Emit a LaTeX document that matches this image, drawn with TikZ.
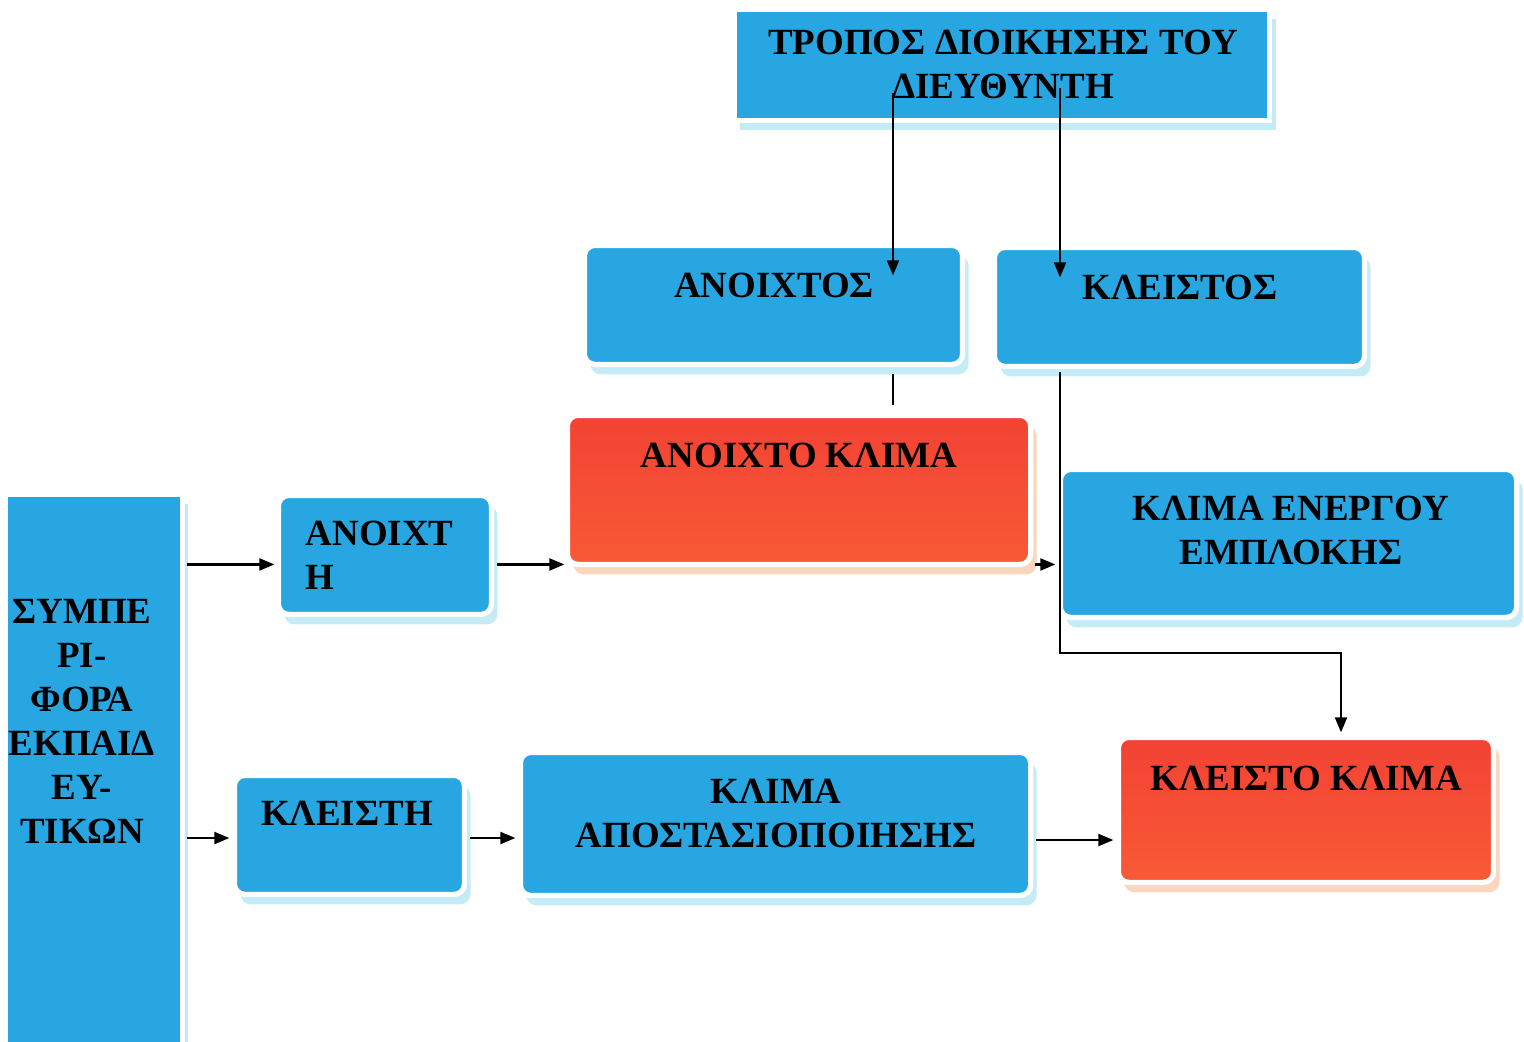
\documentclass[tikz,border=0pt]{standalone}
\usepackage{fontspec}
\setmainfont{Liberation Serif}
\usetikzlibrary{arrows.meta,shadows}
\definecolor{boxblue}{RGB}{40,166,225}
\definecolor{shadowblue}{RGB}{196,236,246}
\definecolor{boxred}{RGB}{242,66,52}
\definecolor{boxorange}{RGB}{248,90,54}
\definecolor{shadowred}{RGB}{250,214,190}

\begin{document}
\begin{tikzpicture}[x=0.01cm, y=-0.01cm,
    bluebox/.style={fill=boxblue, draw=white, line width=1.5pt, rounded corners=3pt, anchor=north west, inner sep=0pt, outer sep=0pt,
      xshift=-0.75pt, yshift=0.75pt,
      drop shadow={shadow xshift=0.06cm, shadow yshift=-0.1cm, fill=shadowblue, opacity=1}},
    redbox/.style={top color=boxred, bottom color=boxorange, draw=white, line width=1.5pt, rounded corners=3pt, anchor=north west, inner sep=0pt, outer sep=0pt,
      xshift=-0.75pt, yshift=0.75pt,
      drop shadow={shadow xshift=0.06cm, shadow yshift=-0.1cm, fill=shadowred, opacity=1}},
    boxtext/.style={font=\bfseries\fontsize{10.5}{12.5}\selectfont, align=center, inner sep=0pt},
    arrow/.style={-{Triangle[length=0.15cm,width=0.12cm]}, line width=0.6pt},
    link/.style={line width=0.6pt}]
  \useasboundingbox (0,0) rectangle (1524,1041);

  % boxes
  \node[bluebox, rounded corners=0pt, minimum width=5.35cm, minimum height=1.11cm] (top) at (737,12) {};
  \node[bluebox, minimum width=3.78cm, minimum height=1.19cm] (anoixtos)    at (587,248) {};
  \node[bluebox, minimum width=3.70cm, minimum height=1.19cm] (kleistos)    at (997,250) {};
  \node[redbox,  minimum width=4.63cm, minimum height=1.49cm] (klimaopen)   at (570,418) {};
  \node[bluebox, minimum width=4.56cm, minimum height=1.48cm] (energou)     at (1063,472) {};
  \node[bluebox, rounded corners=0pt, minimum width=1.77cm, minimum height=5.65cm] (symp) at (8,497) {};
  \node[bluebox, minimum width=2.13cm, minimum height=1.19cm] (anoixti)     at (281,498) {};
  \node[bluebox, minimum width=2.30cm, minimum height=1.19cm] (kleisti)     at (237,778) {};
  \node[bluebox, minimum width=5.10cm, minimum height=1.43cm] (apost)       at (523,755) {};
  \node[redbox,  minimum width=3.75cm, minimum height=1.45cm] (klimaclosed) at (1121,740) {};

  % texts
  \node[boxtext] (top-t)         at (1003,64)  {ΤΡΟΠΟΣ ΔΙΟΙΚΗΣΗΣ ΤΟΥ\\ΔΙΕΥΘΥΝΤΗ};
  \node[boxtext] (anoixtos-t)    at (774,285)  {ΑΝΟΙΧΤΟΣ};
  \node[boxtext] (kleistos-t)    at (1180,287) {ΚΛΕΙΣΤΟΣ};
  \node[boxtext] (klimaopen-t)   at (799,455)  {ΑΝΟΙΧΤΟ ΚΛΙΜΑ};
  \node[boxtext] (energou-t)     at (1291,530) {ΚΛΙΜΑ ΕΝΕΡΓΟΥ\\ΕΜΠΛΟΚΗΣ};
  \node[boxtext] (symp-t)        at (82,721)   {ΣΥΜΠΕ\\ΡΙ-\\ΦΟΡΑ\\ΕΚΠΑΙΔ\\ΕΥ-\\ΤΙΚΩΝ};
  \node[boxtext, align=left, anchor=west] (anoixti-t) at (305,555) {ΑΝΟΙΧΤ\\Η};
  \node[boxtext] (kleisti-t)     at (347,813)  {ΚΛΕΙΣΤΗ};
  \node[boxtext] (apost-t)       at (776,813)  {ΚΛΙΜΑ\\ΑΠΟΣΤΑΣΙΟΠΟΙΗΣΗΣ};
  \node[boxtext] (klimaclosed-t) at (1306,778) {ΚΛΕΙΣΤΟ ΚΛΙΜΑ};

  % connectors
  \coordinate (t1) at (893,93);
  \coordinate (t2) at (1060,88);
  \coordinate (bend) at (1341,653);
  \draw[arrow] (t1) -- ([yshift=-0.3cm]t1 |- anoixtos.north);
  \draw[arrow] (t2) -- ([yshift=-0.3cm]t2 |- kleistos.north);
  \draw[link, shorten <=0.1cm, shorten >=0.1cm] (t1 |- anoixtos.south) -- (t1 |- klimaopen.north);
  \draw[arrow, shorten <=0.06cm, shorten >=0.05cm] (t2 |- kleistos.south) |- (bend) -- (bend |- klimaclosed.north);
  \draw[arrow, shorten <=0.05cm, shorten >=0.04cm] (symp.east |- klimaopen.south) -- (anoixti.west |- klimaopen.south);
  \draw[arrow, shorten <=0.06cm, shorten >=0.03cm] (anoixti.east |- klimaopen.south) -- (klimaopen.south west);
  \draw[arrow, shorten <=0.04cm, shorten >=0.05cm] (klimaopen.south east) -- (klimaopen.south east -| energou.west);
  \draw[arrow, shorten <=0.05cm, shorten >=0.05cm] (symp.east |- 0,838) -- (kleisti.west |- 0,838);
  \draw[arrow, shorten <=0.05cm, shorten >=0.05cm] (kleisti.east |- 0,838) -- (apost.west |- 0,838);
  \draw[arrow, shorten <=0.05cm, shorten >=0.05cm] (apost.east |- 0,840) -- (klimaclosed.west |- 0,840);
\end{tikzpicture}
\end{document}
